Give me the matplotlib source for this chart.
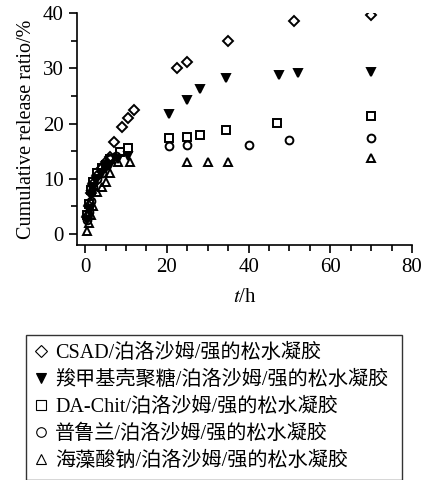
import matplotlib
matplotlib.use("Agg")
import matplotlib.pyplot as plt
from matplotlib.ticker import MultipleLocator
from matplotlib.lines import Line2D

plt.rcParams['font.family'] = ['Liberation Serif', 'Noto Sans CJK SC']
plt.rcParams['mathtext.fontset'] = 'stix'

labels = ["CSAD/泊洛沙姆/强的松水凝胶",
          "羧甲基壳聚糖/泊洛沙姆/强的松水凝胶",
          "DA-Chit/泊洛沙姆/强的松水凝胶",
          "普鲁兰/泊洛沙姆/强的松水凝胶",
          "海藻酸钠/泊洛沙姆/强的松水凝胶"]

t_csad = [0.5, 1, 1.5, 2, 3, 4, 5, 6, 7, 9, 10.5, 12, 22.5, 25, 35, 51, 70]
v_csad = [3, 5, 7.5, 9, 10.5, 12, 13, 14, 16.7, 19.4, 21, 22.5, 30, 31.2, 34.9, 38.5, 39.6]

t_cmc = [0.5, 1, 1.5, 2, 3, 4, 5, 6, 8, 10.5, 20.5, 25, 28, 34.5, 47.5, 52, 70]
v_cmc = [2.5, 4.5, 7, 8.5, 10, 11, 12, 12.5, 13.5, 14.1, 21.8, 24.3, 26.3, 28.2, 28.8, 29.2, 29.3]

t_da = [0.5, 1, 1.5, 2, 3, 4, 5, 6, 8.5, 10.5, 20.5, 25, 28, 34.5, 47, 70]
v_da = [3.5, 5.5, 8, 9.5, 11, 12, 12.5, 13.5, 14.8, 15.6, 17.3, 17.6, 18, 18.9, 20.1, 21.3]

t_pul = [0.5, 1, 1.5, 2, 3, 4, 5, 6, 7.5, 20.5, 25, 40, 50, 70]
v_pul = [2.5, 4, 6, 8.5, 10, 11, 12.5, 13.5, 14.1, 15.9, 16.1, 16.2, 17, 17.4]

t_alg = [0.5, 1, 1.5, 2, 3, 4, 5, 6, 8, 11, 25, 30, 35, 70]
v_alg = [0.6, 2, 3.5, 5, 7.6, 8.5, 9.5, 11, 13, 13.1, 13.1, 13.1, 13.0, 13.7]

fig = plt.figure(figsize=(4.22, 4.8), dpi=100)
ax = fig.add_axes([0.1825, 0.4896, 0.794, 0.483])

series = [(t_csad, v_csad, 'D', 'none', 5.2),
          (t_cmc, v_cmc, 'v', 'black', 6.0),
          (t_da, v_da, 's', 'none', 5.2),
          (t_pul, v_pul, 'o', 'none', 5.6),
          (t_alg, v_alg, '^', 'none', 6.2)]

handles = []
for (t, v, m, fc, ms), lab in zip(series, labels):
    ax.plot(t, v, linestyle='none', marker=m, markerfacecolor=fc,
            markeredgecolor='black', markeredgewidth=1.4, markersize=ms)
    handles.append(Line2D([], [], linestyle='none', marker=m, markerfacecolor=fc,
                          markeredgecolor='black', markeredgewidth=0.8,
                          markersize=ms + 1.3, label=lab))

ax.set_xlim(-2, 80)
ax.set_ylim(-2, 40)
ax.xaxis.set_major_locator(MultipleLocator(20))
ax.xaxis.set_minor_locator(MultipleLocator(5))
ax.yaxis.set_major_locator(MultipleLocator(10))
ax.yaxis.set_minor_locator(MultipleLocator(5))
ax.spines['top'].set_visible(False)
ax.spines['right'].set_visible(False)
for s in ['left', 'bottom']:
    ax.spines[s].set_linewidth(1.2)
ax.tick_params(which='major', direction='out', length=6, width=1.2, labelsize=15)
ax.tick_params(which='minor', direction='out', length=4, width=1.2)

ax.set_ylabel("Cumulative release ratio/%", fontsize=14.5, labelpad=5)
ax.set_xlabel(r"$t$/h", fontsize=15, labelpad=8)

x0 = 26 / 422
y0 = 1 - 478 / 480
w = (402 - 26) / 422
h = (478 - 335) / 480
leg = fig.legend(handles=handles, loc='upper left',
                 bbox_to_anchor=(x0, y0, w, h),
                 mode='expand', ncol=1, frameon=True, fancybox=False,
                 edgecolor='black', fontsize=14.5, handlelength=0.6,
                 handletextpad=0.4, labelspacing=0.38, borderpad=0.45,
                 borderaxespad=0)
leg.get_frame().set_linewidth(1.0)

fig.savefig("out.png", dpi=100)
